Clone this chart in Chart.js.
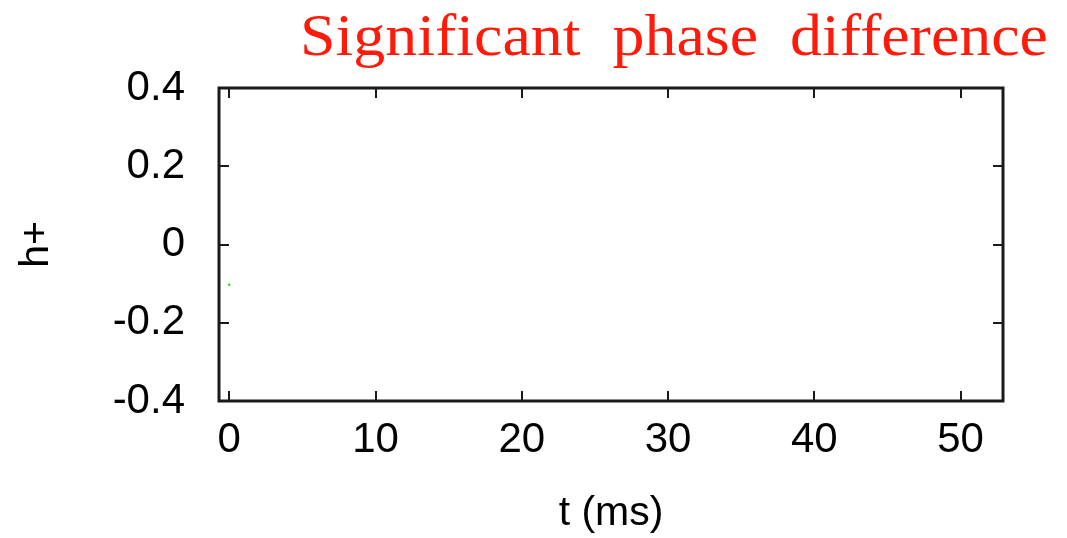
<!DOCTYPE html>
<html>
<head>
<meta charset="utf-8">
<script src="https://cdn.jsdelivr.net/npm/chart.js@4"></script>
<style>
  html, body { margin: 0; padding: 0; background: #fff; }
  #wrap { width: 1067px; height: 538px; }
</style>
</head>
<body>
<div id="wrap"><canvas id="grafica"></canvas></div>
<script>
// Datos
const tiempos = [0];          // t (ms)
const valoresH = [-0.103];    // h+
const ticksX = [0, 10, 20, 30, 40, 50];
const ticksY = [-0.4, -0.2, 0, 0.2, 0.4];
const etiquetasY = ['-0.4', '-0.2', '0', '0.2', '0.4'];
const titulo = 'Significant phase difference';

const fuenteEjes = 'Liberation Sans, Arial, sans-serif';

// Marco con marcas hacia dentro en los cuatro lados (estilo gnuplot)
const marcoPlugin = {
    id: 'marco',
    afterDatasetsDraw(chart) {
        const ctx = chart.ctx;
        const a = chart.chartArea;
        const sx = chart.scales.x, sy = chart.scales.y;
        const largo = 10;
        ctx.save();
        ctx.strokeStyle = '#1a1a1a';
        ctx.lineWidth = 2;
        ctx.beginPath();
        ticksX.forEach(v => {
            const px = Math.round(sx.getPixelForValue(v));
            ctx.moveTo(px, a.bottom); ctx.lineTo(px, a.bottom - largo);
            ctx.moveTo(px, a.top); ctx.lineTo(px, a.top + largo);
        });
        ticksY.forEach(v => {
            const py = Math.round(sy.getPixelForValue(v));
            ctx.moveTo(a.left, py); ctx.lineTo(a.left + largo, py);
            ctx.moveTo(a.right, py); ctx.lineTo(a.right - largo, py);
        });
        ctx.stroke();
        ctx.lineWidth = 3;
        ctx.strokeRect(a.left, a.top, a.right - a.left, a.bottom - a.top);
        ctx.restore();
    }
};

// Título rojo en serif, ajustado al ancho de la figura
const tituloPlugin = {
    id: 'tituloRojo',
    afterDraw(chart) {
        const ctx = chart.ctx;
        ctx.save();
        ctx.font = '60px "Liberation Serif", "Times New Roman", serif';
        ctx.fillStyle = '#ff1a0a';
        ctx.textBaseline = 'alphabetic';
        const texto = titulo.replace(/ /g, '  ');
        const ancho = ctx.measureText(texto).width;
        const x0 = 300, x1 = 1048;
        ctx.translate(x0, 55);
        ctx.scale((x1 - x0) / ancho, 1);
        ctx.fillText(texto, 0, 0);
        ctx.restore();
    }
};

const ctx = document.getElementById('grafica').getContext('2d');
new Chart(ctx, {
    type: 'scatter',
    data: {
        datasets: [{
            label: 'h+',
            data: tiempos.map((t, i) => ({ x: t, y: valoresH[i] })),
            backgroundColor: '#22cc22',
            borderColor: '#22cc22',
            pointRadius: 1.2,
            pointBorderWidth: 0
        }]
    },
    options: {
        responsive: true,
        maintainAspectRatio: false,
        animation: false,
        layout: { padding: { top: 88, right: 64, bottom: 0, left: 0 } },
        plugins: {
            legend: { display: false },
            tooltip: { enabled: false },
            title: { display: false }
        },
        scales: {
            x: {
                type: 'linear',
                min: -0.7,
                max: 52.9,
                grid: { display: false, drawTicks: false },
                border: { display: false },
                afterBuildTicks: scale => { scale.ticks = ticksX.map(v => ({ value: v })); },
                afterFit: scale => { scale.height = 137; },
                ticks: {
                    padding: 14,
                    color: '#000',
                    font: { family: fuenteEjes, size: 42 },
                    callback: v => String(v)
                },
                title: {
                    display: true,
                    text: 't (ms)',
                    color: '#000',
                    font: { family: fuenteEjes, size: 41 },
                    padding: 0
                }
            },
            y: {
                type: 'linear',
                min: -0.4,
                max: 0.4,
                grid: { display: false, drawTicks: false },
                border: { display: false },
                afterBuildTicks: scale => { scale.ticks = ticksY.map(v => ({ value: v })); },
                afterFit: scale => { scale.width = 219; },
                ticks: {
                    padding: 34,
                    color: '#000',
                    font: { family: fuenteEjes, size: 42 },
                    callback: (v, i) => etiquetasY[i]
                },
                title: {
                    display: true,
                    text: 'h+',
                    color: '#000',
                    font: { family: fuenteEjes, size: 41 },
                    padding: { top: 12, bottom: 0 }
                }
            }
        }
    },
    plugins: [marcoPlugin, tituloPlugin]
});
</script>
</body>
</html>
